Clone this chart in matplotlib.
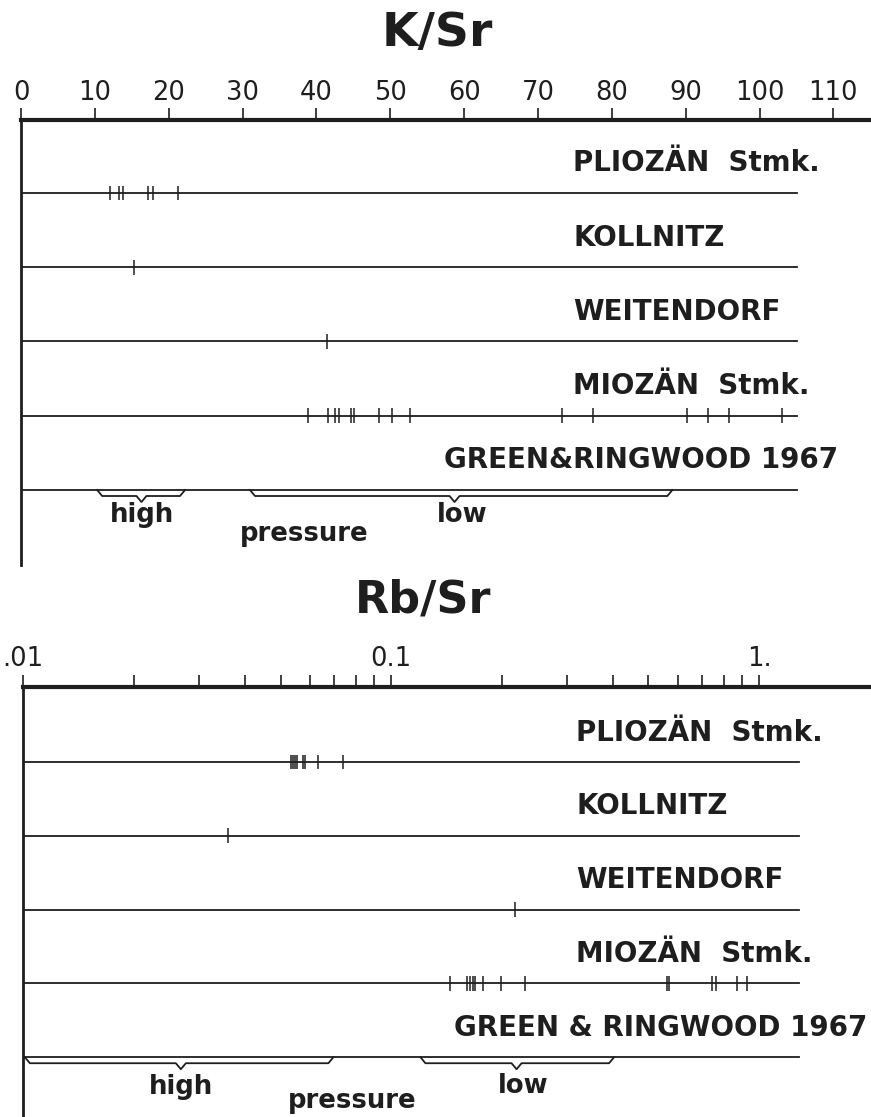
import numpy as np
import matplotlib
matplotlib.use("Agg")
import matplotlib.pyplot as plt

plt.rcParams['font.family'] = ['DejaVu Sans']
ink = '#1e1e1e'

# row names (top to bottom)
rows_ks = ["PLIOZÄN  Stmk.", "KOLLNITZ", "WEITENDORF", "MIOZÄN  Stmk.", "GREEN&RINGWOOD 1967"]
rows_rb = ["PLIOZÄN  Stmk.", "KOLLNITZ", "WEITENDORF", "MIOZÄN  Stmk.", "GREEN & RINGWOOD 1967"]

# K/Sr values
ks_plio = [12.1, 13.3, 13.8, 17.2, 17.8, 21.3]
ks_koll = [15.3]
ks_weit = [41.4]
ks_mio = [38.8, 41.6, 42.5, 43.0, 44.7, 45.1, 48.5, 50.2, 52.7,
          73.3, 77.5, 90.2, 93.0, 95.9, 103.1]
ks_high = (10.3, 16.3, 22.2)   # start, tip, end
ks_low = (31.0, 58.7, 88.2)
ks_ticks = list(range(0, 111, 10))
ks_end = 105.1

# Rb/Sr values (log scale)
rb_plio = [0.0534, 0.0540, 0.0547, 0.0553, 0.0574, 0.0582, 0.0631, 0.0741]
rb_koll = [0.036]
rb_weit = [0.217]
rb_mio = [0.144, 0.161, 0.164, 0.167, 0.169, 0.177, 0.199, 0.231,
          0.560, 0.569, 0.745, 0.761, 0.872, 0.928]
rb_high = (0.0101, 0.0268, 0.0696)
rb_low = (0.120, 0.219, 0.403)
rb_major = [0.01, 0.1, 1.0]
rb_major_labels = [".01", "0.1", "1."]
rb_minor = [0.02, 0.03, 0.04, 0.05, 0.06, 0.07, 0.08, 0.09,
            0.2, 0.3, 0.4, 0.5, 0.6, 0.7, 0.8, 0.9]
rb_end = 1.282


def brace(ax, x0, xt, x1, y):
    # curly bracket hanging below the row line, drawn in pixel offsets
    t = ax.transData
    px0, py = t.transform((x0, y))
    pxt = t.transform((xt, y))[0]
    px1 = t.transform((x1, y))[0]
    d1, d2, e = 6, 12, 5
    pts = [(px0, py), (px0 + e, py - d1), (pxt - e, py - d1), (pxt, py - d2),
           (pxt + e, py - d1), (px1 - e, py - d1), (px1, py)]
    data = t.inverted().transform(pts)
    ax.plot(data[:, 0], data[:, 1], color=ink, lw=1.3, solid_joinstyle='round')


def style_axis(ax):
    for s in ['right', 'bottom']:
        ax.spines[s].set_visible(False)
    ax.spines['top'].set_linewidth(3)
    ax.spines['left'].set_linewidth(2)
    ax.spines['top'].set_color(ink)
    ax.spines['left'].set_color(ink)
    ax.xaxis.tick_top()
    ax.set_yticks([])
    ax.tick_params(axis='x', which='both', direction='out', length=8.6, width=1.2,
                   color=ink, labelcolor=ink, labelsize=18.5, pad=1.5)


def draw_rows(ax, rows, data, x0, xend, lab_x, gr_x):
    for i, name in enumerate(rows):
        ax.plot([x0, xend], [i, i], color=ink, lw=1.3)
        if i < len(data):
            ax.vlines(data[i], i - 0.1, i + 0.1, color=ink, lw=1.1)
        lx = gr_x if i == len(rows) - 1 else lab_x
        ax.text(lx, i - 0.29, name, transform=ax.get_yaxis_transform(),
                ha='left', va='baseline', fontsize=20, fontweight='bold', color=ink)


W, H = 871, 1117
fig = plt.figure(figsize=(W / 100, H / 100), dpi=100)

# top panel: K/Sr
ax1 = fig.add_axes([21.1 / W, 1 - 565 / H, 1 - 21.1 / W, (565 - 120) / H])
ax1.set_xlim(0, 115.1)
ax1.set_ylim(5.01, -0.983)
style_axis(ax1)
ax1.set_xticks(ks_ticks)
draw_rows(ax1, rows_ks, [ks_plio, ks_koll, ks_weit, ks_mio], 0, ks_end, 0.6494, 0.4976)
brace(ax1, *ks_high, 4)
brace(ax1, *ks_low, 4)
for txt, x, y in [("high", 16.4, 4.43), ("pressure", 38.4, 4.69), ("low", 59.7, 4.43)]:
    ax1.text(x, y, txt, ha='center', va='baseline', fontsize=18.7, fontweight='bold', color=ink)

# bottom panel: Rb/Sr
ax2 = fig.add_axes([23.3 / W, 0, 1 - 23.3 / W, (H - 687) / H])
ax2.set_xscale('log')
ax2.set_xlim(0.01, 2.012)
ax2.set_ylim(4.81, -1.017)
style_axis(ax2)
ax2.set_xticks(rb_major)
ax2.set_xticklabels(rb_major_labels)
ax2.set_xticks(rb_minor, minor=True)
ax2.xaxis.set_minor_formatter(matplotlib.ticker.NullFormatter())
ax2.tick_params(axis='x', which='both', pad=2)
draw_rows(ax2, rows_rb, [rb_plio, rb_koll, rb_weit, rb_mio], 0.01, rb_end, 0.652, 0.508)
brace(ax2, *rb_high, 4)
brace(ax2, *rb_low, 4)
for txt, x, y in [("high", 0.0269, 4.50), ("pressure", 0.0782, 4.69), ("low", 0.2288, 4.49)]:
    ax2.text(x, y, txt, ha='center', va='baseline', fontsize=18.7, fontweight='bold', color=ink)

fig.text(437 / W, 1 - 46 / H, "K/Sr", ha='center', va='baseline', fontsize=34,
         fontweight='bold', color=ink)
fig.text(423.6 / W, 1 - 612 / H, "Rb/Sr", ha='center', va='baseline', fontsize=32,
         fontweight='bold', color=ink)

fig.savefig("out.png", dpi=100, facecolor='white')
